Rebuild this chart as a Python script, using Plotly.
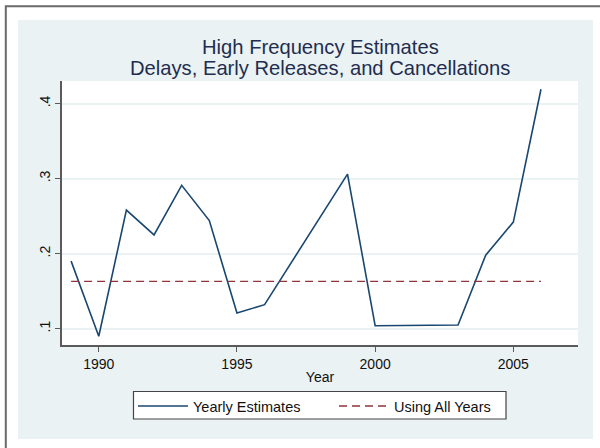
import plotly.graph_objects as go

# ---- data ----
years = [1989, 1990, 1991, 1992, 1993, 1994, 1995, 1996, 1999, 2000, 2003, 2004, 2005, 2006]
yearly_estimates = [0.190, 0.090, 0.258, 0.225, 0.291, 0.244, 0.121, 0.132, 0.306, 0.104, 0.105, 0.198, 0.242, 0.419]
all_years_x = [1989, 2006]
all_years_value = [0.163, 0.163]

y_tickvals = [0.1, 0.2, 0.3, 0.4]
y_ticktext = [".1", ".2", ".3", ".4"]
x_tickvals = [1990, 1995, 2000, 2005]

title_lines = ["High Frequency Estimates", "Delays, Early Releases, and Cancellations"]

FONT = "Liberation Sans, Arial, sans-serif"
NAVY = "#1A476F"
MAROON = "#90353B"
PANEL = "#EAF2F3"
AXIS = "#5A5A5A"

fig = go.Figure()
fig.add_trace(go.Scatter(x=years, y=yearly_estimates, mode="lines", name="Yearly Estimates",
                         line=dict(color=NAVY, width=1.6)))
fig.add_trace(go.Scatter(x=all_years_x, y=all_years_value, mode="lines", name="Using All Years",
                         line=dict(color=MAROON, width=1.4, dash="8px,5px")))

W, H = 600, 448
L, R, T, B = 62, 578, 81, 345


def px_x(p):
    return (p - L) / (R - L)


def px_y(p):
    return (B - p) / (B - T)


shapes = [
    # light blue panel
    dict(type="rect", xref="paper", yref="paper", layer="below",
         x0=px_x(18), x1=px_x(593), y0=px_y(439), y1=px_y(20),
         fillcolor=PANEL, line=dict(width=0)),
    # white plot region
    dict(type="rect", xref="paper", yref="paper", layer="below",
         x0=0, x1=1, y0=0, y1=1, fillcolor="white", line=dict(width=0)),
    # outer frame (left and top visible)
    dict(type="rect", xref="paper", yref="paper", layer="below",
         x0=px_x(5.8), x1=px_x(640), y0=px_y(490), y1=px_y(6.3),
         fillcolor="rgba(0,0,0,0)", line=dict(color="#6A6A6A", width=2)),
    # legend box
    dict(type="rect", xref="paper", yref="paper", layer="below",
         x0=px_x(133.5), x1=px_x(506), y0=px_y(419), y1=px_y(391.5),
         fillcolor="white", line=dict(color="#444444", width=1.2)),
]

annotations = [
    dict(text=title_lines[0], xref="paper", yref="paper", x=0.5, y=px_y(47.5),
         xanchor="center", yanchor="middle", showarrow=False,
         font=dict(family=FONT, size=20.2, color="#1F2D50")),
    dict(text=title_lines[1], xref="paper", yref="paper", x=0.5, y=px_y(67.5),
         xanchor="center", yanchor="middle", showarrow=False,
         font=dict(family=FONT, size=20.2, color="#1F2D50")),
]

fig.update_layout(
    width=W, height=H,
    margin=dict(l=L, r=W - R, t=T, b=H - B, pad=0),
    paper_bgcolor="white",
    plot_bgcolor="white",
    font=dict(family=FONT, size=14, color="#111111"),
    shapes=shapes,
    annotations=annotations,
    showlegend=True,
    legend=dict(orientation="h", x=px_x(133), xanchor="left", y=px_y(390), yanchor="top",
                bgcolor="rgba(0,0,0,0)", borderwidth=0,
                font=dict(family=FONT, size=14.5, color="#111111"),
                itemwidth=50, entrywidth=136, tracegroupgap=0),
)

fig.update_xaxes(
    range=[1988.67, 2007.34], tickvals=x_tickvals, ticks="outside", ticklen=5,
    tickwidth=1.3, tickcolor=AXIS, showline=True, linecolor=AXIS, linewidth=1.6,
    showgrid=False, zeroline=False, tickfont=dict(size=14),
    title=dict(text="Year", font=dict(size=14), standoff=2),
)
fig.update_yaxes(
    range=[0.0783, 0.430], tickvals=y_tickvals, ticktext=y_ticktext, ticks="outside",
    ticklen=5, tickwidth=1.3, tickcolor=AXIS, showline=True, linecolor=AXIS, linewidth=1.6,
    showgrid=True, gridcolor=PANEL, gridwidth=1.5, zeroline=False, tickangle=-90,
    tickfont=dict(size=14),
)

fig.write_html("out.html", config={"displayModeBar": False},
               post_script="document.body.style.margin='0px';")
